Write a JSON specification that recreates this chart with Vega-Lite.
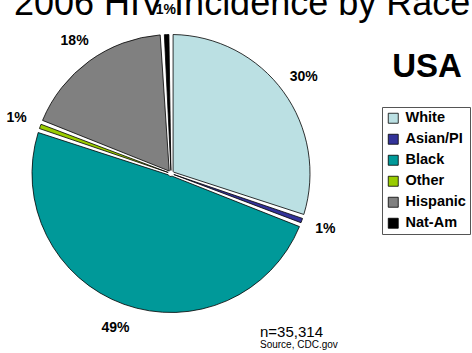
{
  "$schema": "https://vega.github.io/schema/vega-lite/v6.json",
  "width": 342,
  "height": 347,
  "autosize": "none",
  "padding": {"left": 0, "top": 0, "right": 130, "bottom": 6},
  "background": "white",
  "title": {
    "text": "2006 HIV Incidence by Race",
    "orient": "top",
    "anchor": "start",
    "frame": "group",
    "font": "Liberation Sans",
    "fontSize": 36,
    "fontWeight": "normal",
    "color": "black",
    "baseline": "alphabetic",
    "offset": 0,
    "dx": 14,
    "dy": 51
  },
  "config": {
    "view": {"stroke": null},
    "text": {"font": "Liberation Sans"}
  },
  "layer": [
    {
      "data": {
        "values": [
          {"race": "White", "share": 0.30},
          {"race": "Asian/PI", "share": 0.01},
          {"race": "Black", "share": 0.49},
          {"race": "Other", "share": 0.01},
          {"race": "Hispanic", "share": 0.18},
          {"race": "Nat-Am", "share": 0.01}
        ]
      },
      "transform": [{"window": [{"op": "row_number", "as": "slice_order"}]}],
      "encoding": {
        "theta": {"field": "share", "type": "quantitative", "stack": true, "scale": {"domain": [0, 1]}},
        "order": {"field": "slice_order", "type": "quantitative"}
      },
      "layer": [
        {
          "mark": {
            "type": "arc",
            "outerRadius": 139,
            "innerRadius": 3,
            "padAngle": 0.03,
            "stroke": "#000000",
            "strokeWidth": 0.8
          },
          "encoding": {
            "color": {
              "field": "race",
              "type": "nominal",
              "scale": {
                "domain": ["White", "Asian/PI", "Black", "Other", "Hispanic", "Nat-Am"],
                "range": ["#BBE0E3", "#333399", "#009999", "#99CC00", "#808080", "#000000"]
              },
              "legend": {
                "title": null,
                "orient": "none",
                "legendX": 382,
                "legendY": 107,
                "symbolType": "square",
                "symbolSize": 100,
                "symbolStrokeColor": "#000000",
                "symbolStrokeWidth": 0.8,
                "labelFont": "Liberation Sans",
                "labelFontWeight": "bold",
                "labelFontSize": 14.5,
                "labelColor": "black",
                "labelOffset": 5,
                "rowPadding": 6,
                "padding": 4,
                "strokeColor": "#555555",
                "fillColor": "white"
              }
            }
          }
        },
        {
          "mark": {
            "type": "text",
            "radius": 164,
            "font": "Liberation Sans",
            "fontSize": 14,
            "fontWeight": "bold",
            "color": "black"
          },
          "encoding": {
            "text": {"field": "share", "type": "quantitative", "format": ".0%"}
          }
        }
      ]
    },
    {
      "data": {"values": [{"note": "USA"}]},
      "mark": {"type": "text", "x": 427, "y": 77, "align": "center", "baseline": "alphabetic", "font": "Liberation Sans", "fontSize": 33, "fontWeight": "bold", "color": "black"},
      "encoding": {"text": {"field": "note"}}
    },
    {
      "data": {"values": [{"note": "n=35,314"}]},
      "mark": {"type": "text", "x": 260, "y": 337, "align": "left", "baseline": "alphabetic", "font": "Liberation Sans", "fontSize": 15, "color": "black"},
      "encoding": {"text": {"field": "note"}}
    },
    {
      "data": {"values": [{"note": "Source, CDC.gov"}]},
      "mark": {"type": "text", "x": 260, "y": 348, "align": "left", "baseline": "alphabetic", "font": "Liberation Sans", "fontSize": 10, "color": "black"},
      "encoding": {"text": {"field": "note"}}
    }
  ]
}
